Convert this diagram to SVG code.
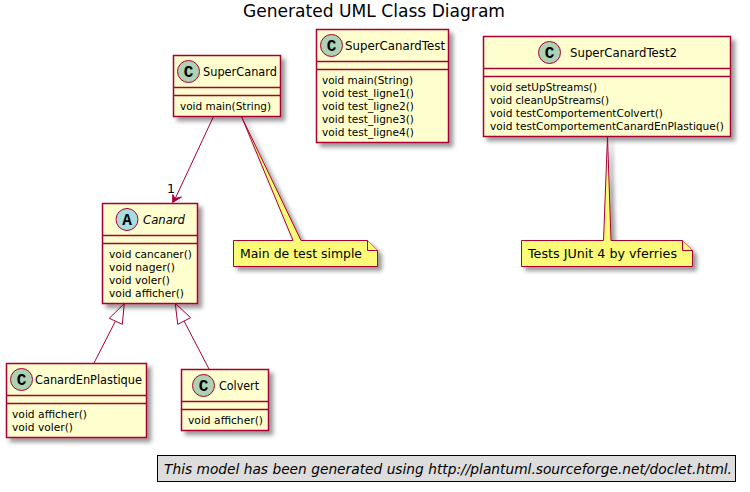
<svg xmlns="http://www.w3.org/2000/svg" width="750" height="492" viewBox="0 0 750 492">
<style>
text{font-family:"DejaVu Sans","Liberation Sans",sans-serif;fill:#000}
.box{fill:#FEFECE;stroke:#A80036;stroke-width:1.5}
.sep{stroke:#A80036;stroke-width:1.5;fill:none}
.c{fill:#ADD1B2;stroke:#A80036;stroke-width:1}
.a{fill:#A9DCDF;stroke:#A80036;stroke-width:1}
.g{font-family:"Liberation Mono",monospace;font-weight:bold;font-size:16px;text-anchor:middle}
.n{font-size:12.5px}
.m{font-size:11px}
.note{fill:#FBFB77;stroke:#A80036;stroke-width:1}
.l{stroke:#A80036;stroke-width:1;fill:none}
.head{fill:#A80036;stroke:#A80036;stroke-width:1}
.tri{fill:#fff;stroke:#A80036;stroke-width:1}
.s{filter:url(#sh)}
</style>
<defs>
<filter id="sh" x="-20%" y="-20%" width="140%" height="140%"><feDropShadow dx="4" dy="4" stdDeviation="2" flood-color="#000" flood-opacity="0.4"/></filter>
</defs>
<text x="374" y="17" font-size="18.500" text-anchor="middle" textLength="262" lengthAdjust="spacingAndGlyphs">Generated UML Class Diagram</text>
<g id="connectors">
<path class="l" d="M213.500 116.500L175 199"/>
<path class="head" d="M172.600 202.500L172.800 194.500L175 198.500L181.500 197Z"/>
<text x="167" y="193" font-size="12.500">1</text>
<path class="l" d="M94 363L115.500 321"/>
<path class="tri" d="M124.300 303.500L109.300 318.300L122.300 324.300Z"/>
<path class="l" d="M209 369L184 321"/>
<path class="tri" d="M175.300 303.500L177.700 324.300L190.700 317.700Z"/>
</g>
<g id="SuperCanard">
<rect class="box s" x="173.500" y="55.500" width="107" height="61"/>
<path class="sep" d="M173.500 87.500H280.500M173.500 95.500H280.500"/>
<circle class="c" cx="188.500" cy="71.500" r="11"/>
<text class="g" x="188.500" y="76.500">C</text>
<text class="n" x="203" y="76" textLength="74" lengthAdjust="spacingAndGlyphs">SuperCanard</text>
<text class="m" x="180" y="110" textLength="91" lengthAdjust="spacingAndGlyphs">void main(String)</text>
</g>
<g id="SuperCanardTest">
<rect class="box s" x="316.500" y="29.500" width="132" height="113"/>
<path class="sep" d="M316.500 61.500H448.500M316.500 69.500H448.500"/>
<circle class="c" cx="331.500" cy="45.500" r="11"/>
<text class="g" x="331.500" y="50.500">C</text>
<text class="n" x="345" y="50" textLength="100" lengthAdjust="spacingAndGlyphs">SuperCanardTest</text>
<text class="m" x="322" y="84" textLength="91" lengthAdjust="spacingAndGlyphs">void main(String)</text>
<text class="m" x="322" y="97" textLength="92" lengthAdjust="spacingAndGlyphs">void test_ligne1()</text>
<text class="m" x="322" y="110" textLength="92" lengthAdjust="spacingAndGlyphs">void test_ligne2()</text>
<text class="m" x="322" y="123" textLength="92" lengthAdjust="spacingAndGlyphs">void test_ligne3()</text>
<text class="m" x="322" y="136" textLength="92" lengthAdjust="spacingAndGlyphs">void test_ligne4()</text>
</g>
<g id="SuperCanardTest2">
<rect class="box s" x="483.500" y="36.500" width="247" height="100"/>
<path class="sep" d="M483.500 68.500H730.500M483.500 76.500H730.500"/>
<circle class="c" cx="549.500" cy="52.500" r="11"/>
<text class="g" x="549.500" y="57.500">C</text>
<text class="n" x="570" y="57" textLength="107" lengthAdjust="spacingAndGlyphs">SuperCanardTest2</text>
<text class="m" x="490" y="91" textLength="107" lengthAdjust="spacingAndGlyphs">void setUpStreams()</text>
<text class="m" x="490" y="104" textLength="119" lengthAdjust="spacingAndGlyphs">void cleanUpStreams()</text>
<text class="m" x="490" y="117" textLength="173" lengthAdjust="spacingAndGlyphs">void testComportementColvert()</text>
<text class="m" x="490" y="130" textLength="234" lengthAdjust="spacingAndGlyphs">void testComportementCanardEnPlastique()</text>
</g>
<g id="Canard">
<rect class="box s" x="102.500" y="203.500" width="95" height="100"/>
<path class="sep" d="M102.500 235.500H197.500M102.500 243.500H197.500"/>
<circle class="a" cx="127" cy="219.500" r="11"/>
<text class="g" x="127" y="224.500">A</text>
<text class="n" x="143" y="224" font-style="italic" textLength="42" lengthAdjust="spacingAndGlyphs">Canard</text>
<text class="m" x="109" y="258" textLength="83" lengthAdjust="spacingAndGlyphs">void cancaner()</text>
<text class="m" x="109" y="271" textLength="66" lengthAdjust="spacingAndGlyphs">void nager()</text>
<text class="m" x="109" y="284" textLength="61" lengthAdjust="spacingAndGlyphs">void voler()</text>
<text class="m" x="109" y="297" textLength="75" lengthAdjust="spacingAndGlyphs">void afficher()</text>
</g>
<g id="CanardEnPlastique">
<rect class="box s" x="6.500" y="363.500" width="140" height="74"/>
<path class="sep" d="M6.500 395.500H146.500M6.500 403.500H146.500"/>
<circle class="c" cx="21.500" cy="379.500" r="11"/>
<text class="g" x="21.500" y="384.500">C</text>
<text class="n" x="35" y="384" textLength="107" lengthAdjust="spacingAndGlyphs">CanardEnPlastique</text>
<text class="m" x="12" y="418" textLength="75" lengthAdjust="spacingAndGlyphs">void afficher()</text>
<text class="m" x="12" y="431" textLength="61" lengthAdjust="spacingAndGlyphs">void voler()</text>
</g>
<g id="Colvert">
<rect class="box s" x="181.500" y="369.500" width="87" height="61"/>
<path class="sep" d="M181.500 401.500H268.500M181.500 409.500H268.500"/>
<circle class="c" cx="203.500" cy="385.500" r="11"/>
<text class="g" x="203.500" y="390.500">C</text>
<text class="n" x="219" y="390" textLength="40" lengthAdjust="spacingAndGlyphs">Colvert</text>
<text class="m" x="188" y="424" textLength="75" lengthAdjust="spacingAndGlyphs">void afficher()</text>
</g>
<g id="note1">
<path class="note s" d="M233.500 240.500H293L241.500 116.500L301 240.500H367.500L377.500 250.500V266.500H233.500Z"/>
<path class="note" d="M367.500 240.500V250.500H377.500"/>
<text x="240" y="258" font-size="13" textLength="122" lengthAdjust="spacingAndGlyphs">Main de test simple</text>
</g>
<g id="note2">
<path class="note s" d="M521.500 240.500H603.500L607.500 136.500L611 240.500H682.500L692.500 250.500V266.500H521.500Z"/>
<path class="note" d="M682.500 240.500V250.500H692.500"/>
<text x="528" y="258" font-size="13" textLength="149" lengthAdjust="spacingAndGlyphs">Tests JUnit 4 by vferries</text>
</g>
<g id="footer">
<rect x="157.500" y="455.500" width="578" height="26" fill="#DDDDDD" stroke="#000" stroke-width="1"/>
<text x="164" y="473.500" font-size="14" font-style="italic" textLength="568" lengthAdjust="spacingAndGlyphs">This model has been generated using http://plantuml.sourceforge.net/doclet.html.</text>
</g>
</svg>
